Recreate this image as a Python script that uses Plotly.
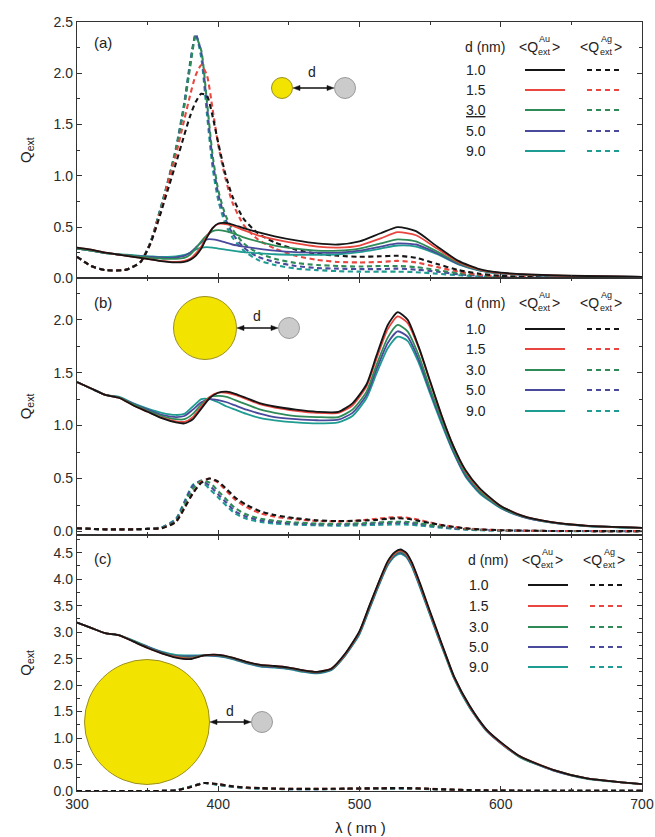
import plotly.graph_objects as go
from plotly.subplots import make_subplots

# ---------------- data ----------------
d_labels = ["1.0", "1.5", "3.0", "5.0", "9.0"]
colors = ["#151515", "#e8463f", "#2e8b57", "#4a4a9c", "#1f9c92"]

wl_a = [300, 310, 320, 335, 345, 352, 358, 364, 370, 376, 380, 384, 388, 392, 396, 400, 405, 410,
        418, 428, 440, 455, 470, 485, 500, 515, 527, 540, 555, 570, 585, 600, 625, 650, 700]
au_a_10 = [0.30, 0.28, 0.25, 0.22, 0.20, 0.185, 0.17, 0.16, 0.155, 0.16, 0.18, 0.22, 0.29, 0.40, 0.49, 0.535, 0.54, 0.525,
           0.49, 0.45, 0.41, 0.37, 0.34, 0.33, 0.36, 0.44, 0.50, 0.46, 0.31, 0.17, 0.09, 0.055, 0.035, 0.025, 0.015]
au_a_15 = [0.30, 0.28, 0.25, 0.22, 0.20, 0.185, 0.172, 0.165, 0.16, 0.17, 0.19, 0.24, 0.31, 0.41, 0.49, 0.53, 0.53, 0.515,
           0.47, 0.42, 0.38, 0.34, 0.31, 0.30, 0.32, 0.39, 0.45, 0.42, 0.29, 0.16, 0.085, 0.052, 0.033, 0.024, 0.015]
au_a_30 = [0.29, 0.27, 0.245, 0.225, 0.21, 0.20, 0.195, 0.19, 0.19, 0.20, 0.23, 0.29, 0.36, 0.42, 0.46, 0.47, 0.46, 0.44,
           0.40, 0.36, 0.32, 0.29, 0.27, 0.27, 0.29, 0.34, 0.38, 0.36, 0.26, 0.15, 0.08, 0.05, 0.032, 0.023, 0.015]
au_a_50 = [0.29, 0.27, 0.245, 0.225, 0.215, 0.21, 0.205, 0.20, 0.205, 0.22, 0.25, 0.30, 0.35, 0.38, 0.38, 0.37, 0.35, 0.33,
           0.31, 0.29, 0.27, 0.255, 0.25, 0.25, 0.27, 0.31, 0.34, 0.33, 0.245, 0.14, 0.078, 0.048, 0.03, 0.022, 0.014]
au_a_90 = [0.29, 0.27, 0.245, 0.23, 0.22, 0.215, 0.21, 0.21, 0.215, 0.23, 0.25, 0.28, 0.30, 0.305, 0.30, 0.29, 0.28, 0.27,
           0.255, 0.245, 0.235, 0.23, 0.23, 0.235, 0.255, 0.29, 0.32, 0.31, 0.235, 0.135, 0.075, 0.046, 0.03, 0.022, 0.014]
ag_a_10 = [0.21, 0.12, 0.08, 0.085, 0.16, 0.34, 0.58, 0.85, 1.12, 1.40, 1.58, 1.72, 1.80, 1.78, 1.58, 1.32, 1.02, 0.80,
           0.58, 0.44, 0.35, 0.28, 0.24, 0.22, 0.21, 0.215, 0.22, 0.20, 0.14, 0.08, 0.045, 0.025, 0.012, 0.008, 0.005]
ag_a_15 = [0.21, 0.12, 0.08, 0.085, 0.16, 0.34, 0.60, 0.90, 1.20, 1.55, 1.78, 1.98, 2.08, 1.98, 1.65, 1.30, 0.98, 0.74,
           0.52, 0.38, 0.29, 0.22, 0.18, 0.16, 0.155, 0.16, 0.17, 0.155, 0.11, 0.065, 0.035, 0.02, 0.01, 0.007, 0.004]
ag_a_30 = [0.21, 0.12, 0.08, 0.085, 0.16, 0.35, 0.62, 0.92, 1.25, 1.68, 2.05, 2.36, 2.22, 1.72, 1.20, 0.86, 0.62, 0.48,
           0.34, 0.25, 0.19, 0.15, 0.13, 0.12, 0.115, 0.12, 0.12, 0.11, 0.08, 0.05, 0.03, 0.015, 0.008, 0.005, 0.003]
ag_a_50 = [0.21, 0.12, 0.08, 0.085, 0.16, 0.35, 0.62, 0.92, 1.25, 1.70, 2.08, 2.38, 2.20, 1.68, 1.15, 0.82, 0.58, 0.44,
           0.30, 0.21, 0.16, 0.12, 0.10, 0.095, 0.09, 0.09, 0.095, 0.085, 0.065, 0.04, 0.025, 0.012, 0.007, 0.005, 0.003]
ag_a_90 = [0.21, 0.12, 0.08, 0.085, 0.16, 0.35, 0.63, 0.93, 1.27, 1.72, 2.10, 2.38, 2.15, 1.60, 1.08, 0.76, 0.53, 0.40,
           0.27, 0.18, 0.13, 0.095, 0.08, 0.07, 0.065, 0.065, 0.065, 0.06, 0.045, 0.03, 0.018, 0.01, 0.005, 0.004, 0.002]

wl_b = [300, 310, 320, 330, 340, 350, 360, 370, 376, 382, 388, 394, 400, 406, 412, 420, 430, 440, 455,
        470, 485, 495, 505, 512, 520, 527, 534, 542, 550, 558, 566, 575, 585, 600, 615, 635, 660, 700]
au_b_10 = [1.41, 1.35, 1.29, 1.26, 1.19, 1.13, 1.07, 1.03, 1.02, 1.06, 1.16, 1.26, 1.31, 1.32, 1.30, 1.26, 1.21, 1.18, 1.15,
           1.13, 1.13, 1.21, 1.39, 1.66, 1.95, 2.07, 2.00, 1.74, 1.42, 1.10, 0.82, 0.58, 0.41, 0.24, 0.15, 0.09, 0.055, 0.035]
au_b_15 = [1.41, 1.35, 1.29, 1.26, 1.19, 1.13, 1.075, 1.04, 1.035, 1.08, 1.18, 1.27, 1.31, 1.31, 1.29, 1.25, 1.20, 1.17, 1.14,
           1.12, 1.12, 1.19, 1.37, 1.63, 1.91, 2.03, 1.97, 1.73, 1.41, 1.10, 0.82, 0.57, 0.40, 0.24, 0.15, 0.09, 0.055, 0.035]
au_b_30 = [1.41, 1.35, 1.29, 1.265, 1.20, 1.14, 1.09, 1.06, 1.06, 1.11, 1.20, 1.27, 1.28, 1.27, 1.24, 1.20, 1.15, 1.12, 1.09,
           1.08, 1.08, 1.15, 1.32, 1.57, 1.83, 1.95, 1.89, 1.66, 1.35, 1.06, 0.79, 0.55, 0.38, 0.23, 0.145, 0.088, 0.054, 0.034]
au_b_50 = [1.41, 1.35, 1.29, 1.265, 1.205, 1.15, 1.10, 1.08, 1.09, 1.15, 1.22, 1.25, 1.24, 1.22, 1.19, 1.15, 1.11, 1.08, 1.06,
           1.05, 1.055, 1.12, 1.29, 1.53, 1.78, 1.89, 1.84, 1.62, 1.32, 1.04, 0.77, 0.53, 0.37, 0.225, 0.14, 0.086, 0.053, 0.034]
au_b_90 = [1.41, 1.35, 1.29, 1.27, 1.21, 1.16, 1.12, 1.10, 1.11, 1.18, 1.25, 1.25, 1.22, 1.18, 1.15, 1.11, 1.07, 1.05, 1.03,
           1.02, 1.03, 1.09, 1.26, 1.49, 1.73, 1.84, 1.80, 1.59, 1.30, 1.02, 0.76, 0.52, 0.36, 0.22, 0.14, 0.085, 0.052, 0.033]
ag_b_10 = [0.03, 0.025, 0.02, 0.02, 0.02, 0.025, 0.03, 0.09, 0.22, 0.36, 0.46, 0.50, 0.47, 0.40, 0.32, 0.25, 0.19, 0.155, 0.125,
           0.105, 0.098, 0.10, 0.105, 0.11, 0.12, 0.125, 0.12, 0.10, 0.08, 0.06, 0.045, 0.03, 0.02, 0.012, 0.008, 0.005, 0.004, 0.003]
ag_b_15 = [0.03, 0.025, 0.02, 0.02, 0.02, 0.025, 0.03, 0.09, 0.22, 0.36, 0.47, 0.50, 0.46, 0.38, 0.30, 0.23, 0.17, 0.14, 0.115,
           0.10, 0.095, 0.10, 0.11, 0.12, 0.13, 0.135, 0.13, 0.11, 0.085, 0.062, 0.045, 0.03, 0.02, 0.012, 0.008, 0.005, 0.004, 0.003]
ag_b_30 = [0.03, 0.025, 0.02, 0.02, 0.02, 0.025, 0.035, 0.10, 0.25, 0.40, 0.48, 0.46, 0.38, 0.30, 0.22, 0.16, 0.12, 0.10, 0.085,
           0.075, 0.072, 0.075, 0.08, 0.085, 0.09, 0.092, 0.09, 0.078, 0.062, 0.047, 0.035, 0.024, 0.016, 0.01, 0.007, 0.005, 0.004, 0.003]
ag_b_50 = [0.03, 0.025, 0.02, 0.02, 0.02, 0.025, 0.038, 0.11, 0.27, 0.43, 0.48, 0.43, 0.35, 0.27, 0.19, 0.14, 0.105, 0.088, 0.075,
           0.068, 0.065, 0.068, 0.072, 0.076, 0.08, 0.082, 0.08, 0.07, 0.056, 0.042, 0.031, 0.022, 0.015, 0.01, 0.007, 0.005, 0.004, 0.003]
ag_b_90 = [0.03, 0.025, 0.02, 0.02, 0.02, 0.025, 0.04, 0.12, 0.28, 0.44, 0.47, 0.40, 0.32, 0.24, 0.17, 0.12, 0.09, 0.075, 0.065,
           0.058, 0.055, 0.057, 0.06, 0.062, 0.065, 0.067, 0.065, 0.057, 0.046, 0.035, 0.026, 0.018, 0.012, 0.008, 0.005, 0.004, 0.003, 0.002]

wl_c = [300, 310, 320, 330, 340, 350, 360, 370, 380, 390, 400, 410, 420, 430, 440, 450, 460, 470, 480, 490,
        500, 507, 514, 520, 525, 529, 533, 537, 543, 549, 555, 561, 567, 578, 590, 602, 614, 637, 661, 700]
au_c_10 = [3.18, 3.08, 2.98, 2.94, 2.82, 2.70, 2.60, 2.52, 2.49, 2.56, 2.57, 2.52, 2.44, 2.38, 2.36, 2.33, 2.28, 2.25, 2.31, 2.60,
           3.02, 3.50, 3.97, 4.34, 4.51, 4.56, 4.50, 4.32, 3.91, 3.46, 3.02, 2.58, 2.16, 1.61, 1.16, 0.88, 0.65, 0.40, 0.24, 0.13]
au_c_15 = [3.18, 3.08, 2.98, 2.94, 2.82, 2.70, 2.60, 2.53, 2.50, 2.56, 2.57, 2.52, 2.44, 2.38, 2.36, 2.33, 2.28, 2.25, 2.31, 2.59,
           3.01, 3.49, 3.96, 4.32, 4.49, 4.54, 4.48, 4.30, 3.89, 3.44, 3.00, 2.57, 2.15, 1.60, 1.15, 0.87, 0.65, 0.40, 0.24, 0.13]
au_c_30 = [3.18, 3.08, 2.98, 2.94, 2.83, 2.71, 2.61, 2.54, 2.52, 2.56, 2.56, 2.51, 2.43, 2.37, 2.35, 2.32, 2.27, 2.24, 2.30, 2.58,
           3.00, 3.47, 3.94, 4.30, 4.47, 4.52, 4.46, 4.28, 3.87, 3.43, 2.99, 2.56, 2.14, 1.59, 1.15, 0.87, 0.64, 0.40, 0.24, 0.13]
au_c_50 = [3.18, 3.08, 2.98, 2.94, 2.83, 2.72, 2.62, 2.55, 2.54, 2.56, 2.55, 2.50, 2.42, 2.36, 2.34, 2.31, 2.26, 2.23, 2.29, 2.57,
           2.98, 3.45, 3.92, 4.28, 4.45, 4.50, 4.44, 4.26, 3.85, 3.41, 2.97, 2.55, 2.13, 1.58, 1.14, 0.86, 0.64, 0.39, 0.24, 0.13]
au_c_90 = [3.18, 3.08, 2.98, 2.94, 2.84, 2.73, 2.63, 2.57, 2.56, 2.56, 2.54, 2.49, 2.41, 2.35, 2.33, 2.30, 2.25, 2.22, 2.28, 2.56,
           2.96, 3.43, 3.90, 4.26, 4.43, 4.48, 4.42, 4.24, 3.83, 3.39, 2.95, 2.53, 2.12, 1.57, 1.13, 0.86, 0.63, 0.39, 0.23, 0.13]
ag_c_10 = [0.0, 0.0, 0.0, 0.0, 0.0, 0.0, 0.002, 0.01, 0.07, 0.15, 0.13, 0.09, 0.065, 0.055, 0.045, 0.04, 0.04, 0.04, 0.042, 0.045,
           0.048, 0.05, 0.052, 0.054, 0.055, 0.056, 0.055, 0.053, 0.048, 0.042, 0.036, 0.03, 0.025, 0.017, 0.011, 0.008, 0.006, 0.004, 0.003, 0.002]
ag_c_15 = [0.0, 0.0, 0.0, 0.0, 0.0, 0.0, 0.002, 0.01, 0.07, 0.15, 0.13, 0.09, 0.065, 0.055, 0.045, 0.04, 0.04, 0.04, 0.042, 0.045,
           0.048, 0.05, 0.053, 0.055, 0.056, 0.057, 0.056, 0.054, 0.049, 0.043, 0.036, 0.03, 0.025, 0.017, 0.011, 0.008, 0.006, 0.004, 0.003, 0.002]
ag_c_30 = [0.0, 0.0, 0.0, 0.0, 0.0, 0.0, 0.002, 0.012, 0.075, 0.15, 0.12, 0.085, 0.06, 0.05, 0.042, 0.038, 0.037, 0.037, 0.039, 0.042,
           0.045, 0.047, 0.049, 0.05, 0.051, 0.052, 0.051, 0.049, 0.045, 0.04, 0.034, 0.028, 0.023, 0.016, 0.01, 0.007, 0.005, 0.004, 0.003, 0.002]
ag_c_50 = [0.0, 0.0, 0.0, 0.0, 0.0, 0.0, 0.002, 0.013, 0.078, 0.15, 0.12, 0.08, 0.058, 0.048, 0.04, 0.036, 0.035, 0.035, 0.037, 0.04,
           0.043, 0.045, 0.047, 0.048, 0.049, 0.05, 0.049, 0.047, 0.043, 0.038, 0.033, 0.027, 0.022, 0.015, 0.01, 0.007, 0.005, 0.004, 0.003, 0.002]
ag_c_90 = [0.0, 0.0, 0.0, 0.0, 0.0, 0.0, 0.002, 0.014, 0.08, 0.15, 0.115, 0.078, 0.056, 0.046, 0.038, 0.034, 0.033, 0.033, 0.035, 0.038,
           0.041, 0.043, 0.045, 0.046, 0.047, 0.048, 0.047, 0.045, 0.041, 0.036, 0.031, 0.026, 0.021, 0.015, 0.01, 0.007, 0.005, 0.004, 0.003, 0.002]

panels = [
    (wl_a, [au_a_10, au_a_15, au_a_30, au_a_50, au_a_90], [ag_a_10, ag_a_15, ag_a_30, ag_a_50, ag_a_90]),
    (wl_b, [au_b_10, au_b_15, au_b_30, au_b_50, au_b_90], [ag_b_10, ag_b_15, ag_b_30, ag_b_50, ag_b_90]),
    (wl_c, [au_c_10, au_c_15, au_c_30, au_c_50, au_c_90], [ag_c_10, ag_c_15, ag_c_30, ag_c_50, ag_c_90]),
]
y_ranges = [[0, 2.5], [-0.03, 2.39], [0, 4.84]]

# ---------------- figure ----------------
W, H = 655, 837
L, R, T, B = 77, 13, 22, 46
FONT = "Arial, Liberation Sans, Helvetica, sans-serif"


def px(x):
    return (x - L) / (W - L - R)


def py(y):
    return (H - B - y) / (H - T - B)


fig = make_subplots(rows=3, cols=1, shared_xaxes=True, vertical_spacing=0)

for r, (wl, au_list, ag_list) in enumerate(panels, start=1):
    order = list(range(5))[::-1]
    for i in order:
        fig.add_trace(go.Scatter(x=wl, y=ag_list[i], mode="lines", showlegend=False,
                                 line=dict(color=colors[i], width=2.1, dash="5px,3.5px", shape="spline", smoothing=0.6)),
                      row=r, col=1)
    for i in order:
        fig.add_trace(go.Scatter(x=wl, y=au_list[i], mode="lines", showlegend=False,
                                 line=dict(color=colors[i], width=1.8, shape="spline", smoothing=0.6)),
                      row=r, col=1)

axis_common = dict(showline=True, linecolor="#333", linewidth=1.3, mirror="ticks", ticks="inside",
                   ticklen=5, tickwidth=1.1, tickcolor="#333", showgrid=False, zeroline=False, automargin=False,
                   tickfont=dict(family=FONT, size=14, color="#2a2a2a"))
for r in range(1, 4):
    fig.update_xaxes(range=[300, 700], dtick=100, tick0=300,
                     minor=dict(dtick=50, ticks="inside", ticklen=3, tickcolor="#333"),
                     row=r, col=1, **axis_common)
    fig.update_yaxes(range=y_ranges[r - 1], dtick=0.5, tick0=0, tickformat=".1f",
                     minor=dict(dtick=0.25, ticks="inside", ticklen=3, tickcolor="#333"),
                     title=dict(text="Q<sub>ext</sub>", font=dict(family=FONT, size=15, color="#222"), standoff=18),
                     row=r, col=1, **axis_common)

shapes = []
annotations = []


def text(x, y, s, size=14, anchor="left"):
    annotations.append(dict(x=px(x), y=py(y), xref="paper", yref="paper", text=s, showarrow=False,
                            xanchor=anchor, yanchor="middle", font=dict(family=FONT, size=size, color="#222")))


def hline(x0, x1, y, color, dash=None):
    shapes.append(dict(type="line", xref="paper", yref="paper", x0=px(x0), x1=px(x1), y0=py(y), y1=py(y),
                       line=dict(color=color, width=2, dash=dash if dash else "solid")))


def circle(cx, cy, r, fill, edge):
    shapes.append(dict(type="circle", xref="paper", yref="paper", xsizemode="pixel", ysizemode="pixel",
                       xanchor=px(cx), yanchor=py(cy), x0=-r, x1=r, y0=-r, y1=r,
                       fillcolor=fill, line=dict(color=edge, width=1)))


def arrow(x0, x1, y):
    n = x1 - x0
    common = dict(type="path", xref="paper", yref="paper", xsizemode="pixel", ysizemode="pixel",
                  xanchor=px(x0), yanchor=py(y))
    shapes.append(dict(common, path=f"M 3,0 L {n - 3},0", line=dict(color="#111", width=1.3)))
    shapes.append(dict(common, path="M 0,0 L 7,2.6 L 7,-2.6 Z", fillcolor="#111", line=dict(color="#111", width=0.5)))
    shapes.append(dict(common, path=f"M {n},0 L {n - 7},2.6 L {n - 7},-2.6 Z", fillcolor="#111",
                       line=dict(color="#111", width=0.5)))


def key(x0, hy, rows, underline=None):
    text(x0, hy, "d (nm)")
    text(x0 + 54, hy, "&lt;Q")
    text(x0 + 74, hy - 8, "Au", size=9)
    text(x0 + 73, hy + 5, "ext", size=9)
    text(x0 + 87, hy, "&gt;")
    text(x0 + 115, hy, "&lt;Q")
    text(x0 + 136, hy - 8, "Ag", size=9)
    text(x0 + 135, hy + 5, "ext", size=9)
    text(x0 + 149, hy, "&gt;")
    for i, ry in enumerate(rows):
        lab = "<u>" + d_labels[i] + "</u>" if underline == i else d_labels[i]
        text(x0 + 1, ry, lab)
        hline(x0 + 62, x0 + 102, ry, colors[i])
        hline(x0 + 124, x0 + 159, ry, colors[i], dash="5px,4px")


key(463, 47, [70, 90, 110, 131, 151], underline=2)
key(463, 303, [329, 349, 370, 390, 411])
key(466, 560, [585, 606, 627, 647, 667])

text(92, 43, "(a)", size=15)
text(92, 302, "(b)", size=15)
text(92, 558, "(c)", size=15)
text(360, 827, "λ ( nm )", size=15, anchor="center")

YEL, YEL_E = "#f2e400", "#9c9020"
GRY, GRY_E = "#cbcbcb", "#9a9a9a"
# panel a schematic
circle(282, 88, 10.5, YEL, YEL_E)
circle(345, 88, 10.5, GRY, GRY_E)
arrow(293, 334, 88)
text(312, 72, "d", anchor="center")
# panel b schematic
circle(205, 328, 31.5, YEL, YEL_E)
circle(289, 328, 10.5, GRY, GRY_E)
arrow(237, 278, 328)
text(257, 316, "d", anchor="center")
# panel c schematic
circle(147, 722, 62.5, YEL, YEL_E)
circle(262, 722, 10.5, GRY, GRY_E)
arrow(210, 251, 722)
text(230, 711, "d", anchor="center")

fig.update_layout(width=W, height=H, margin=dict(l=L, r=R, t=T, b=B, autoexpand=False),
                  plot_bgcolor="white", paper_bgcolor="white", showlegend=False,
                  shapes=shapes, annotations=list(fig.layout.annotations) + annotations,
                  font=dict(family=FONT, color="#222"))

fig.write_html("out.html")
